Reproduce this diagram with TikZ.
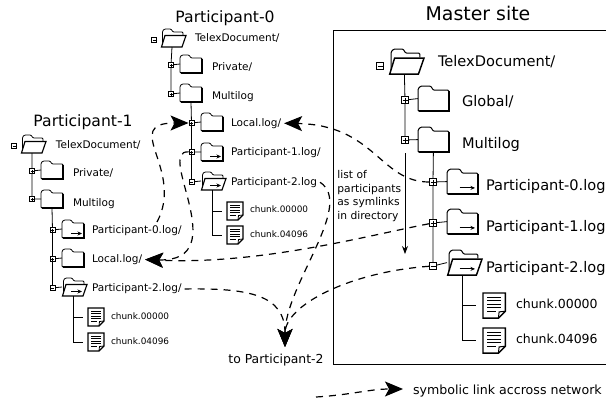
\documentclass[tikz,border=0pt]{standalone}
\usepackage{fontspec}
\setmainfont{DejaVu Sans}
\usetikzlibrary{arrows.meta}
\newcommand{\foldershape}{
  \draw[rounded corners=1pt,fill=white] (0,18) -- (0,2) -- (2,0) -- (9,0) -- (11,3) -- (22,3) -- (22,18) -- cycle;
  \draw[line width=1.3\pgflinewidth] (0.5,18) -- (22,18) -- (22,3.5);
  \coordinate (-b) at (11,18); \coordinate (-w) at (0,9);
}
\newcommand{\openshape}{
  \draw[rounded corners=1pt] (1.5,15) -- (1.5,2) -- (3.5,0) -- (10,0) -- (12,3) -- (22,3) -- (22,6);
  \draw[line width=1.2\pgflinewidth,fill=white] (0.5,18) -- (4,6.5) -- (25,6.5) -- (21,18) -- cycle;
  \coordinate (-b) at (11,18); \coordinate (-w) at (0,9);
}
\tikzset{
  pics/folder/.style={code={\foldershape}},
  pics/linkfolder/.style={code={\foldershape \draw[-{Stealth[length=4.5pt,width=4pt]}] (9,13.5) -- (20,13.5);}},
  pics/openfolder/.style={code={\openshape}},
  pics/openlink/.style={code={\openshape \draw[-{Stealth[length=4.5pt,width=4pt]}] (9,13.5) -- (20,13.5);}},
  pics/chunkdoc/.style={code={
    \draw[line width=1.2\pgflinewidth,fill=white] (0,0) -- (16,0) -- (16,13) -- (11,18) -- (0,18) -- cycle;
    \draw (16,13) -- (11.5,13.5) -- (11,18);
    \draw (3,3) -- (13,3) (3,5.5) -- (13,5.5) (3,8) -- (13,8) (3,10.5) -- (13,10.5) (3,13) -- (9,13);
    \coordinate (-w) at (-5,9);
  }},
  big/.style={scale=1.4,line width=1pt},
  expbox/.style={draw,rectangle,fill=white,line width=0.9pt,minimum size=5pt,inner sep=0pt},
  expminus/.style={expbox,path picture={\draw[line width=0.5pt] ([xshift=1pt]path picture bounding box.west) -- ([xshift=-1pt]path picture bounding box.east);}},
  expplus/.style={expbox,path picture={
    \draw[line width=0.5pt] ([xshift=1pt]path picture bounding box.west) -- ([xshift=-1pt]path picture bounding box.east);
    \draw[line width=0.5pt] ([yshift=1pt]path picture bounding box.south) -- ([yshift=-1pt]path picture bounding box.north);}},
  bigexp/.style={minimum size=7pt},
  lbl/.style={inner sep=0pt,outer sep=3pt,anchor=base west,text height=0.75em,text depth=0.2em,font=\fontsize{10.5}{12}\selectfont},
  lblchunk/.style={lbl,font=\fontsize{8.9}{10}\selectfont},
  lblbig/.style={lbl,font=\fontsize{14.6}{16}\selectfont},
  lblchunkbig/.style={lbl,font=\fontsize{12.5}{14}\selectfont},
  sitetitle/.style={inner sep=0pt,anchor=base,font=\fontsize{15.6}{18}\selectfont},
  link/.style={dashed,dash pattern=on 7pt off 6pt,line width=1.2pt,-{Stealth[length=18pt,width=15pt,inset=4pt]}},
}
\begin{document}
\begin{tikzpicture}[x=1pt,y=-1pt,line width=0.8pt]
    \useasboundingbox (0,0) rectangle (606,399);
    %% Participant-0
    \node[sitetitle] (atitle) at (225,22.3) {Participant-0};
    \node[expminus] (a0) at (154,40) {};
    \pic (a0f) at (161,29) {openfolder};
    \node[lbl] (a0t) at (192,41.7) {TelexDocument/};
    \node[expplus] (a1) at (171,65) {};
    \pic (a1f) at (180,55) {folder};
    \node[lbl] (a1t) at (209,70) {Private/};
    \node[expplus] (a2) at (171,94) {};
    \pic (a2f) at (180,84) {folder};
    \node[lbl] (a2t) at (209,99.3) {Multilog};
    \node[expplus] (a3) at (191.5,123) {};
    \pic (a3f) at (201,113) {folder};
    \node[lbl] (a3t) at (228,126) {Local.log/};
    \node[expplus] (a4) at (191.5,152) {};
    \pic (a4f) at (201,143) {linkfolder};
    \node[lbl] (a4t) at (228,155) {Participant-1.log/};
    \node[expminus] (a5) at (191.5,182) {};
    \pic (a5f) at (201,172) {openlink};
    \node[lbl] (a5t) at (228,185) {Participant-2.log};
    \pic (a6f) at (227,202) {chunkdoc};
    \node[lblchunk] (a6t) at (247,212.3) {chunk.00000};
    \pic (a7f) at (227,226) {chunkdoc};
    \node[lblchunk] (a7t) at (247,237.3) {chunk.04096};
    %% tree lines
    \draw (a0f-b) -- (a1) -- (a2) (a1) -- (a1f-w) (a2) -- (a2f-w);
    \draw (a2f-b) -- (a3) -- (a4) -- (a5) (a3) -- (a3f-w) (a4) -- (a4f-w) (a5) -- (a5f-w);
    \draw (a5f-b) |- (a6f-w) (a5f-b) |- (a7f-w);
    %% Participant-1
    \node[sitetitle] (btitle) at (83,126.7) {Participant-1};
    \node[expminus] (b0) at (14,146) {};
    \pic (b0f) at (21,135) {openfolder};
    \node[lbl] (b0t) at (53,148.3) {TelexDocument/};
    \node[expplus] (b1) at (32,171) {};
    \pic (b1f) at (41,161) {folder};
    \node[lbl] (b1t) at (70,176.7) {Private/};
    \node[expplus] (b2) at (32,199) {};
    \pic (b2f) at (41,190) {folder};
    \node[lbl] (b2t) at (70,206.3) {Multilog};
    \node[expplus] (b3) at (52.5,230) {};
    \pic (b3f) at (62,220) {linkfolder};
    \node[lbl] (b3t) at (89,233.3) {Participant-0.log/};
    \node[expplus] (b4) at (52.5,259) {};
    \pic (b4f) at (62,249) {folder};
    \node[lbl] (b4t) at (89,262.3) {Local.log/};
    \node[expminus] (b5) at (52.5,288) {};
    \pic (b5f) at (62,278) {openlink};
    \node[lbl] (b5t) at (89,291.7) {Participant-2.log/};
    \pic (b6f) at (88,308) {chunkdoc};
    \node[lblchunk] (b6t) at (108,319) {chunk.00000};
    \pic (b7f) at (88,333) {chunkdoc};
    \node[lblchunk] (b7t) at (108,344) {chunk.04096};
    %% tree lines
    \draw (b0f-b) -- (b1) -- (b2) (b1) -- (b1f-w) (b2) -- (b2f-w);
    \draw (b2f-b) -- (b3) -- (b4) -- (b5) (b3) -- (b3f-w) (b4) -- (b4f-w) (b5) -- (b5f-w);
    \draw (b5f-b) |- (b6f-w) (b5f-b) |- (b7f-w);
    %% Master site
    \node[sitetitle,font=\fontsize{18.9}{22}\selectfont] (mtitle) at (478,20.7) {Master site};
    \draw (606,30) -- (333.5,30) -- (333.5,364) -- (606,364);
    \node[expminus,bigexp] (m0) at (380,66) {};
    \pic[big] (m0f) at (389,49) {openfolder};
    \node[lblbig] (m0t) at (435,66.7) {TelexDocument/};
    \node[expplus,bigexp] (m1) at (405,100) {};
    \pic[big] (m1f) at (418,86) {folder};
    \node[lblbig] (m1t) at (459,106.7) {Global/};
    \node[expplus,bigexp] (m2) at (405,140) {};
    \pic[big] (m2f) at (418,127) {folder};
    \node[lblbig] (m2t) at (459,148) {Multilog};
    \node[expplus,bigexp] (m3) at (433,182) {};
    \pic[big] (m3f) at (447,169) {linkfolder};
    \node[lblbig] (m3t) at (483,190.7) {Participant-0.log};
    \node[expplus,bigexp] (m4) at (433,223) {};
    \pic[big] (m4f) at (447,209) {linkfolder};
    \node[lblbig] (m4t) at (483,231) {Participant-1.log};
    \node[expminus,bigexp] (m5) at (433,266) {};
    \pic[big] (m5f) at (447,250) {openlink};
    \node[lblbig] (m5t) at (483,272) {Participant-2.log};
    \pic[big] (m6f) at (483,293) {chunkdoc};
    \node[lblchunkbig] (m6t) at (513,308) {chunk.00000};
    \pic[big] (m7f) at (483,328) {chunkdoc};
    \node[lblchunkbig] (m7t) at (513,343) {chunk.04096};
    %% tree lines
    \draw (m0f-b) -- (m1) -- (m2) (m1) -- (m1f-w) (m2) -- (m2f-w);
    \draw (m2f-b) -- (m3) -- (m4) -- (m5) (m3) -- (m3f-w) (m4) -- (m4f-w) (m5) -- (m5f-w);
    \draw (m5f-b) |- (m6f-w) (m5f-b) |- (m7f-w);
    %% note in the master box
    \node[inner sep=0pt,align=left,anchor=north west,font=\fontsize{10.7}{13.6}\selectfont] (note) at (337,170) {list of\\participants\\as symlinks\\in directory};
    \coordinate (notetop) at (405,153);
    \coordinate (notetip) at (405,254);
    \draw[-{Stealth[length=8pt,width=6pt]}] (notetop) -- (notetip);
    %% links between sites
    \node[inner sep=0pt,anchor=base,font=\fontsize{12.4}{14}\selectfont] (target) at (276,363) {to Participant-2};
    \coordinate (tip) at (285,347);
    \coordinate (from0) at (157,222);
    \draw[link] (m3) .. controls (380,182) and (375,125) .. (a3t.east);
    \draw[link] (m4) .. controls (370,235) and (260,265) .. (b4t.east);
    \draw[link] (m5) .. controls (350,272) and (285,305) .. (tip);
    \draw[link] (a5t.east) .. controls (355,205) and (285,285) .. (tip);
    \draw[link] (b5t.east) .. controls (250,288) and (285,295) .. (tip);
    \draw[link] (from0) .. controls (185,170) and (120,123) .. (a3);
    \draw[link] (a4) .. controls (155,150) and (235,262) .. (b4t.east);
    %% legend
    \coordinate (legstart) at (316,397);
    \coordinate (legtip) at (403,389);
    \node[lbl,font=\fontsize{12.6}{14}\selectfont] (legend) at (410,394) {symbolic link accross network};
    \draw[link] (legstart) .. controls (350,395) and (370,389) .. (legtip);
  \end{tikzpicture}
\end{document}
